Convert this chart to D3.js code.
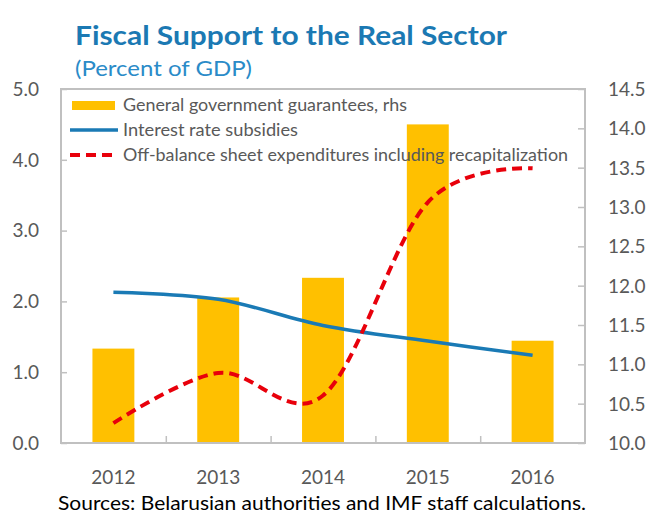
<!DOCTYPE html>
<html><head><meta charset="utf-8">
<script src="https://cdn.jsdelivr.net/npm/d3@7"></script>
<style>body{margin:0;background:#fff} svg text{font-family:Lato,'Open Sans',sans-serif}</style>
</head><body><svg id="c" width="650" height="516"></svg>
<script>
const years = ["2012","2013","2014","2015","2016"];
const guarantees = [11.2, 11.85, 12.1, 14.05, 11.3];   // rhs
const subsidies = [2.13, 2.03, 1.66, 1.44, 1.24];      // lhs
const offBalance = [0.28, 0.99, 0.67, 3.4, 3.88];      // lhs
const leftTicks = [0, 1, 2, 3, 4, 5];
const rightTicks = [10, 10.5, 11, 11.5, 12, 12.5, 13, 13.5, 14, 14.5];
const seriesNames = ["General government guarantees, rhs", "Interest rate subsidies", "Off-balance sheet expenditures including recapitalization"];
const titleText = "Fiscal Support to the Real Sector";
const subtitleText = "(Percent of GDP)";
const sourceText = "Sources: Belarusian authorities and IMF staff calculations.";

const svg = d3.select("#c");
const L = 61, R = 585, T = 89, B = 443;
const gray = "#595959", axisCol = "#c0c0c0";
const gold = "#FFC000", blue = "#1a7ab5", red = "#e8000b";

const x = d3.scaleBand().domain(years).range([L, R]).paddingInner(0.6).paddingOuter(0.3);
const yL = d3.scaleLinear().domain([0, 5]).range([B, T]);
const yR = d3.scaleLinear().domain([10, 14.5]).range([B, T]);
const cx = d => x(d) + x.bandwidth() / 2;

// title
svg.append("text").attr("x", 75).attr("y", 45).attr("font-size", 26).attr("font-weight", 700)
  .attr("fill", "#1b79b3").attr("textLength", 432).attr("lengthAdjust", "spacingAndGlyphs").text(titleText);
svg.append("text").attr("x", 75).attr("y", 76).attr("font-size", 21)
  .attr("fill", "#2a8bc8").attr("textLength", 177).attr("lengthAdjust", "spacingAndGlyphs").text(subtitleText);

// bars
svg.append("g").selectAll("rect").data(years).join("rect")
  .attr("x", d => x(d)).attr("width", x.bandwidth())
  .attr("y", (d, i) => yR(guarantees[i])).attr("height", (d, i) => B - yR(guarantees[i]))
  .attr("fill", gold);

// frame
svg.append("rect").attr("x", L).attr("y", T).attr("width", R - L).attr("height", B - T)
  .attr("fill", "none").attr("stroke", axisCol).attr("stroke-width", 2);

// axes
const axL = svg.append("g").attr("transform", `translate(${L},0)`)
  .call(d3.axisRight(yL).tickValues(leftTicks).tickSize(6).tickFormat(""));
const axR = svg.append("g").attr("transform", `translate(${R},0)`)
  .call(d3.axisLeft(yR).tickValues(rightTicks).tickSize(7).tickFormat(""));
const bounds = years.slice(1).map(d => x(d) - x.step() * x.paddingInner() / 2);
const axB = svg.append("g").attr("transform", `translate(0,${B})`)
  .call(d3.axisTop(d3.scaleLinear().domain([L, R]).range([L, R])).tickValues(bounds).tickSize(7).tickFormat(""));
[axL, axR, axB].forEach(a => { a.select(".domain").remove(); a.selectAll("line").attr("stroke", axisCol).attr("stroke-width", 1.5); });

// tick labels
svg.append("g").selectAll("text").data(leftTicks).join("text")
  .attr("x", 39).attr("y", d => yL(d)).attr("dy", "0.36em").attr("text-anchor", "end")
  .attr("font-size", 19).attr("fill", gray).text(d3.format(".1f"));
svg.append("g").selectAll("text").data(rightTicks).join("text")
  .attr("x", 608).attr("y", d => yR(d)).attr("dy", "0.36em")
  .attr("font-size", 19).attr("fill", gray).text(d3.format(".1f"));
svg.append("g").selectAll("text").data(years).join("text")
  .attr("x", d => cx(d)).attr("y", 484).attr("text-anchor", "middle")
  .attr("font-size", 19).attr("fill", gray).text(d => d);

// lines
const line = d3.line().curve(d3.curveCatmullRom.alpha(0));
svg.append("path").attr("d", line(years.map((d, i) => [cx(d), yL(subsidies[i])])))
  .attr("fill", "none").attr("stroke", blue).attr("stroke-width", 3.5);
svg.append("path").attr("d", line(years.map((d, i) => [cx(d), yL(offBalance[i])])))
  .attr("fill", "none").attr("stroke", red).attr("stroke-width", 4).attr("stroke-dasharray", "10,6");

// legend
const lg = svg.append("g");
lg.append("rect").attr("x", 72).attr("y", 101).attr("width", 43).attr("height", 9).attr("fill", gold);
lg.append("line").attr("x1", 70).attr("x2", 118).attr("y1", 130).attr("y2", 130).attr("stroke", blue).attr("stroke-width", 3.5);
lg.append("line").attr("x1", 70).attr("x2", 118).attr("y1", 155).attr("y2", 155).attr("stroke", red).attr("stroke-width", 4).attr("stroke-dasharray", "10,6");
const lens = [284, 175, 445];
[111, 136, 161].forEach((yy, i) => {
  lg.append("text").attr("x", 123).attr("y", yy).attr("font-size", 17).attr("fill", gray)
    .attr("textLength", lens[i]).attr("lengthAdjust", "spacingAndGlyphs").text(seriesNames[i]);
});

// source
svg.append("text").attr("x", 58).attr("y", 510).attr("font-size", 19).attr("fill", "#000")
  .attr("textLength", 528).attr("lengthAdjust", "spacingAndGlyphs").text(sourceText);
</script></body></html>
